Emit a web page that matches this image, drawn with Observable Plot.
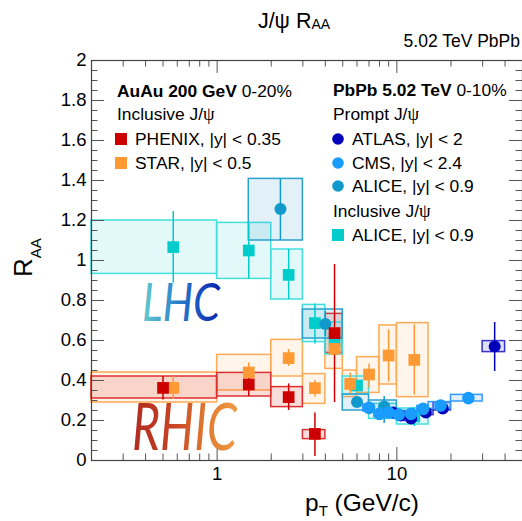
<!DOCTYPE html>
<html><head><meta charset="utf-8">
<script src="https://cdn.jsdelivr.net/npm/d3@7"></script>
<script src="https://cdn.jsdelivr.net/npm/@observablehq/plot@0.6"></script>
<style>body{margin:0;background:#fff}</style>
</head><body><div id="chart"></div>
<script>
// ---- data: [pT, binLo, binHi, RAA, statLo, statHi, sysLo, sysHi]
const phenix = [
  [0.5, 0.2, 1, 0.363, 0.303, 0.42, 0.31, 0.42],
  [1.5, 1, 2, 0.38, 0.32, 0.435, 0.32, 0.438],
  [2.5, 2, 3, 0.317, 0.25, 0.383, 0.267, 0.367],
  [3.5, 3, 4, 0.133, 0.02, 0.238, 0.107, 0.152],
  [4.5, 4, 5, 0.637, 0.29, 0.98, 0.538, 0.733]
];
const star = [
  [0.57, 0.2, 1, 0.363, 0.305, 0.42, 0.29, 0.44],
  [1.5, 1, 2, 0.44, 0.40, 0.487, 0.35, 0.528],
  [2.5, 2, 3, 0.512, 0.47, 0.555, 0.42, 0.603],
  [3.5, 3, 4, 0.362, 0.317, 0.40, 0.283, 0.432],
  [4.5, 4, 5, 0.558, 0.53, 0.59, 0.458, 0.658],
  [5.5, 5, 6, 0.383, 0.333, 0.437, 0.317, 0.45],
  [7, 6, 8, 0.43, 0.363, 0.483, 0.338, 0.517],
  [9, 8, 10, 0.525, 0.392, 0.653, 0.38, 0.675],
  [12.5, 10, 15, 0.503, 0.328, 0.678, 0.317, 0.687]
];
const aliceIncl = [
  [0.57, 0.2, 1, 1.067, 0.887, 1.245, 0.933, 1.2],
  [1.5, 1, 2, 1.05, 0.908, 1.19, 0.908, 1.188],
  [2.5, 2, 3, 0.928, 0.805, 1.055, 0.805, 1.055],
  [3.5, 3, 4, 0.687, 0.583, 0.783, 0.592, 0.778],
  [4.5, 4, 5, 0.595, 0.56, 0.63, 0.53, 0.69],
  [6, 5, 7, 0.375, 0.35, 0.40, 0.33, 0.42],
  [8.5, 7, 10, 0.25, 0.23, 0.27, 0.208, 0.283],
  [12.5, 10, 15, 0.22, 0.17, 0.265, 0.18, 0.26]
];
const alicePrompt = [
  [2.25, 1.5, 3, 1.257, 1.10, 1.408, 1.10, 1.408],
  [4, 3, 5, 0.683, 0.62, 0.745, 0.61, 0.755],
  [6, 5, 7, 0.292, 0.27, 0.315, 0.25, 0.33],
  [8.5, 7, 10, 0.27, 0.185, 0.32, 0.24, 0.30]
];
const cms = [
  [7, 6.5, 7.5, 0.263, 0.25, 0.276, 0.245, 0.28],
  [8, 7.5, 8.5, 0.233, 0.22, 0.246, 0.218, 0.248],
  [9, 8.5, 9.5, 0.24, 0.227, 0.253, 0.225, 0.255],
  [10.25, 9.5, 11, 0.23, 0.217, 0.243, 0.215, 0.245],
  [12, 11, 13, 0.233, 0.22, 0.246, 0.218, 0.248],
  [14, 13, 15, 0.258, 0.245, 0.271, 0.243, 0.273],
  [17.5, 15, 20, 0.275, 0.26, 0.29, 0.258, 0.292],
  [25, 20, 30, 0.312, 0.29, 0.335, 0.295, 0.328]
];
const atlas = [
  [9.5, 9, 10, 0.24, 0.23, 0.25, 0.228, 0.252],
  [10.5, 10, 11, 0.225, 0.215, 0.235, 0.213, 0.237],
  [12, 11, 13, 0.21, 0.2, 0.22, 0.198, 0.222],
  [14.5, 13, 16, 0.24, 0.23, 0.25, 0.227, 0.253],
  [18, 16, 20, 0.26, 0.25, 0.27, 0.25, 0.29],
  [35, 30, 40, 0.57, 0.445, 0.69, 0.542, 0.597]
];
const yTickValues = [0, 0.2, 0.4, 0.6, 0.8, 1, 1.2, 1.4, 1.6, 1.8, 2];
const xTickLabels = [1, 10];
const xMinorTicks = [0.3,0.4,0.5,0.6,0.7,0.8,0.9,2,3,4,5,6,7,8,9,20,30,40];
const yMinorTicks = d3.range(0, 41).map(i => i * 0.05).filter(v => !yTickValues.some(t => Math.abs(t - v) < 1e-6));

// ---- layout / style
const W = 522, H = 521, mL = 91, mR = 0, mT = 60, mB = 61;
const pw = W - mL - mR, ph = H - mT - mB;
const rows = a => a.map(([x, x1, x2, y, e1, e2, s1, s2]) => ({x, x1, x2, y, e1, e2, s1, s2}));
const S = {
  phenix: {c: "#cc0000", box: "#dd3030", fill: "#dd4433", fo: 0.18, sym: "square", r: 6.6},
  star: {c: "#ff9933", box: "#ffaa55", fill: "#ffb060", fo: 0.13, sym: "square", r: 6.6},
  aliceIncl: {c: "#00cccc", box: "#44dddd", fill: "#66dddd", fo: 0.18, sym: "square", r: 6.6},
  alicePrompt: {c: "#1199cc", box: "#2aa0d0", fill: "#3399cc", fo: 0.14, sym: "circle", r: 6},
  cms: {c: "#1a9cff", box: "#3399ff", fill: "#66b3ff", fo: 0.2, sym: "circle", r: 6.3},
  atlas: {c: "#0000bb", box: "#3333cc", fill: "#6666cc", fo: 0.2, sym: "circle", r: 6}
};
const D = {phenix: rows(phenix), star: rows(star), aliceIncl: rows(aliceIncl), alicePrompt: rows(alicePrompt), cms: rows(cms), atlas: rows(atlas)};
const sysRect = k => Plot.rect(D[k], {x1: "x1", x2: "x2", y1: "s1", y2: "s2", fill: S[k].fill, fillOpacity: S[k].fo, stroke: S[k].box, strokeWidth: 1.5});
const statRule = k => Plot.ruleX(D[k], {x: "x", y1: "e1", y2: "e2", stroke: S[k].c, strokeWidth: 1.5});
const marker = k => Plot.dot(D[k], {x: "x", y: "y", symbol: S[k].sym, r: S[k].r, fill: S[k].c, stroke: "none"});
const tickCol = "#555";

const chart = Plot.plot({
  width: W, height: H, marginLeft: mL, marginRight: mR, marginTop: mT, marginBottom: mB,
  x: {type: "log", domain: [0.2, 50]},
  y: {domain: [0, 2]},
  style: {fontFamily: "'Liberation Sans', Arial, sans-serif", fontSize: "18px", color: "#000", background: "#fff", overflow: "visible"},
  marks: [
    sysRect("star"), sysRect("phenix"), sysRect("aliceIncl"), sysRect("alicePrompt"), sysRect("atlas"), sysRect("cms"),
    statRule("aliceIncl"), statRule("alicePrompt"), statRule("star"), statRule("phenix"), statRule("atlas"), statRule("cms"),
    marker("aliceIncl"), marker("alicePrompt"), marker("star"), marker("phenix"), marker("atlas"), marker("cms"),
    // inward ticks, all four sides
    Plot.tickY(yTickValues, {y: d => d, insetRight: pw - 13, stroke: tickCol}),
    Plot.tickY(yMinorTicks, {y: d => d, insetRight: pw - 6.5, stroke: tickCol}),
    Plot.tickY(yTickValues, {y: d => d, insetLeft: pw - 13, stroke: tickCol}),
    Plot.tickY(yMinorTicks, {y: d => d, insetLeft: pw - 6.5, stroke: tickCol}),
    Plot.tickX(xTickLabels, {x: d => d, insetTop: ph - 13, stroke: tickCol}),
    Plot.tickX(xMinorTicks, {x: d => d, insetTop: ph - 6.5, stroke: tickCol}),
    Plot.tickX(xTickLabels, {x: d => d, insetBottom: ph - 13, stroke: tickCol}),
    Plot.tickX(xMinorTicks, {x: d => d, insetBottom: ph - 6.5, stroke: tickCol}),
    Plot.axisY(yTickValues, {tickSize: 0, tickPadding: 5, fontSize: 18.5, label: null, tickFormat: d => String(+d.toFixed(1))}),
    Plot.axisX(xTickLabels, {tickSize: 0, tickPadding: 6, fontSize: 18.5, label: null, tickFormat: d => String(d)}),
    Plot.frame({stroke: "#444", strokeWidth: 1.2})
  ]
});
document.getElementById("chart").appendChild(chart);

// ---- annotations
const svg = d3.select(chart);
const defs = svg.append("defs");
const grad = (id, stops) => {
  const gr = defs.append("linearGradient").attr("id", id).attr("x1", "0%").attr("x2", "100%").attr("y1", "0%").attr("y2", "0%");
  stops.forEach(([o, c]) => gr.append("stop").attr("offset", o).attr("stop-color", c));
};
grad("gLHC", [["0%", "#66cccc"], ["45%", "#2a80cc"], ["100%", "#0a1fb0"]]);
grad("gRHIC", [["0%", "#b02a20"], ["40%", "#c84424"], ["70%", "#e07a30"], ["100%", "#f09a44"]]);
const SANS = "'Liberation Sans', Arial, sans-serif";
const SERIF = "'Liberation Serif', 'DejaVu Serif', serif";
const g = svg.append("g").attr("font-family", SANS).attr("fill", "#000").attr("text-anchor", "start");

// title
const t = g.append("text").attr("x", 294).attr("y", 28).attr("text-anchor", "middle").attr("font-size", 21.5);
t.append("tspan").text("J/ψ R");
t.append("tspan").attr("font-size", 14).attr("dy", 1).text("AA");
g.append("text").attr("x", 520).attr("y", 47).attr("text-anchor", "end").attr("font-size", 17.5).text("5.02 TeV PbPb");

// axis titles
const yl = g.append("text").attr("transform", "translate(32,277) rotate(-90)").attr("font-size", 26);
yl.append("tspan").text("R");
yl.append("tspan").attr("font-size", 15).attr("dy", 9).text("AA");
const xl = g.append("text").attr("x", 305).attr("y", 511).attr("font-size", 24.5);
xl.append("tspan").text("p");
xl.append("tspan").attr("font-size", 15).attr("dy", 5).text("T");
xl.append("tspan").attr("dy", -5).text(" (GeV/c)");

// legends
const fs = 17.4;
function header(x, y, bold, rest) {
  const e = g.append("text").attr("x", x).attr("y", y).attr("font-size", fs);
  e.append("tspan").attr("font-weight", "bold").text(bold);
  e.append("tspan").text(rest);
}
function jpsi(x, y, pre) {
  const e = g.append("text").attr("x", x).attr("y", y).attr("font-size", fs);
  e.append("tspan").text(pre + " J/");
  e.append("tspan").attr("font-family", SERIF).attr("font-size", 18.5).text("ψ");
}
function entry(x, y, k, label) {
  const s = S[k];
  if (s.sym === "square") g.append("rect").attr("x", x - 6).attr("y", y - 6).attr("width", 12).attr("height", 12).attr("fill", s.c);
  else g.append("circle").attr("cx", x).attr("cy", y).attr("r", 5.8).attr("fill", s.c);
  g.append("text").attr("x", x + 14).attr("y", y + 6).attr("font-size", fs).text(label);
}
header(117, 97, "AuAu 200 GeV", " 0-20%");
jpsi(117, 120, "Inclusive");
entry(121, 139, "phenix", "PHENIX, |y| < 0.35");
entry(121, 163, "star", "STAR, |y| < 0.5");
header(333, 96, "PbPb 5.02 TeV", " 0-10%");
jpsi(333, 120, "Prompt");
entry(338, 139, "atlas", "ATLAS, |y| < 2");
entry(338, 163, "cms", "CMS, |y| < 2.4");
entry(338, 186, "alicePrompt", "ALICE, |y| < 0.9");
jpsi(333, 217, "Inclusive");
entry(338, 235, "aliceIncl", "ALICE, |y| < 0.9");

// hand-drawn style labels
g.append("text").attr("x", 142).attr("y", 321).attr("font-size", 52).attr("font-style", "italic")
  .attr("font-family", "Lato, sans-serif").attr("textLength", 78).attr("lengthAdjust", "spacingAndGlyphs")
  .attr("fill", "url(#gLHC)").text("LHC");
g.append("text").attr("x", 132).attr("y", 450).attr("font-size", 66).attr("font-style", "italic")
  .attr("font-family", "Lato, sans-serif").attr("textLength", 105).attr("lengthAdjust", "spacingAndGlyphs")
  .attr("fill", "url(#gRHIC)").text("RHIC");
</script>
</body></html>
